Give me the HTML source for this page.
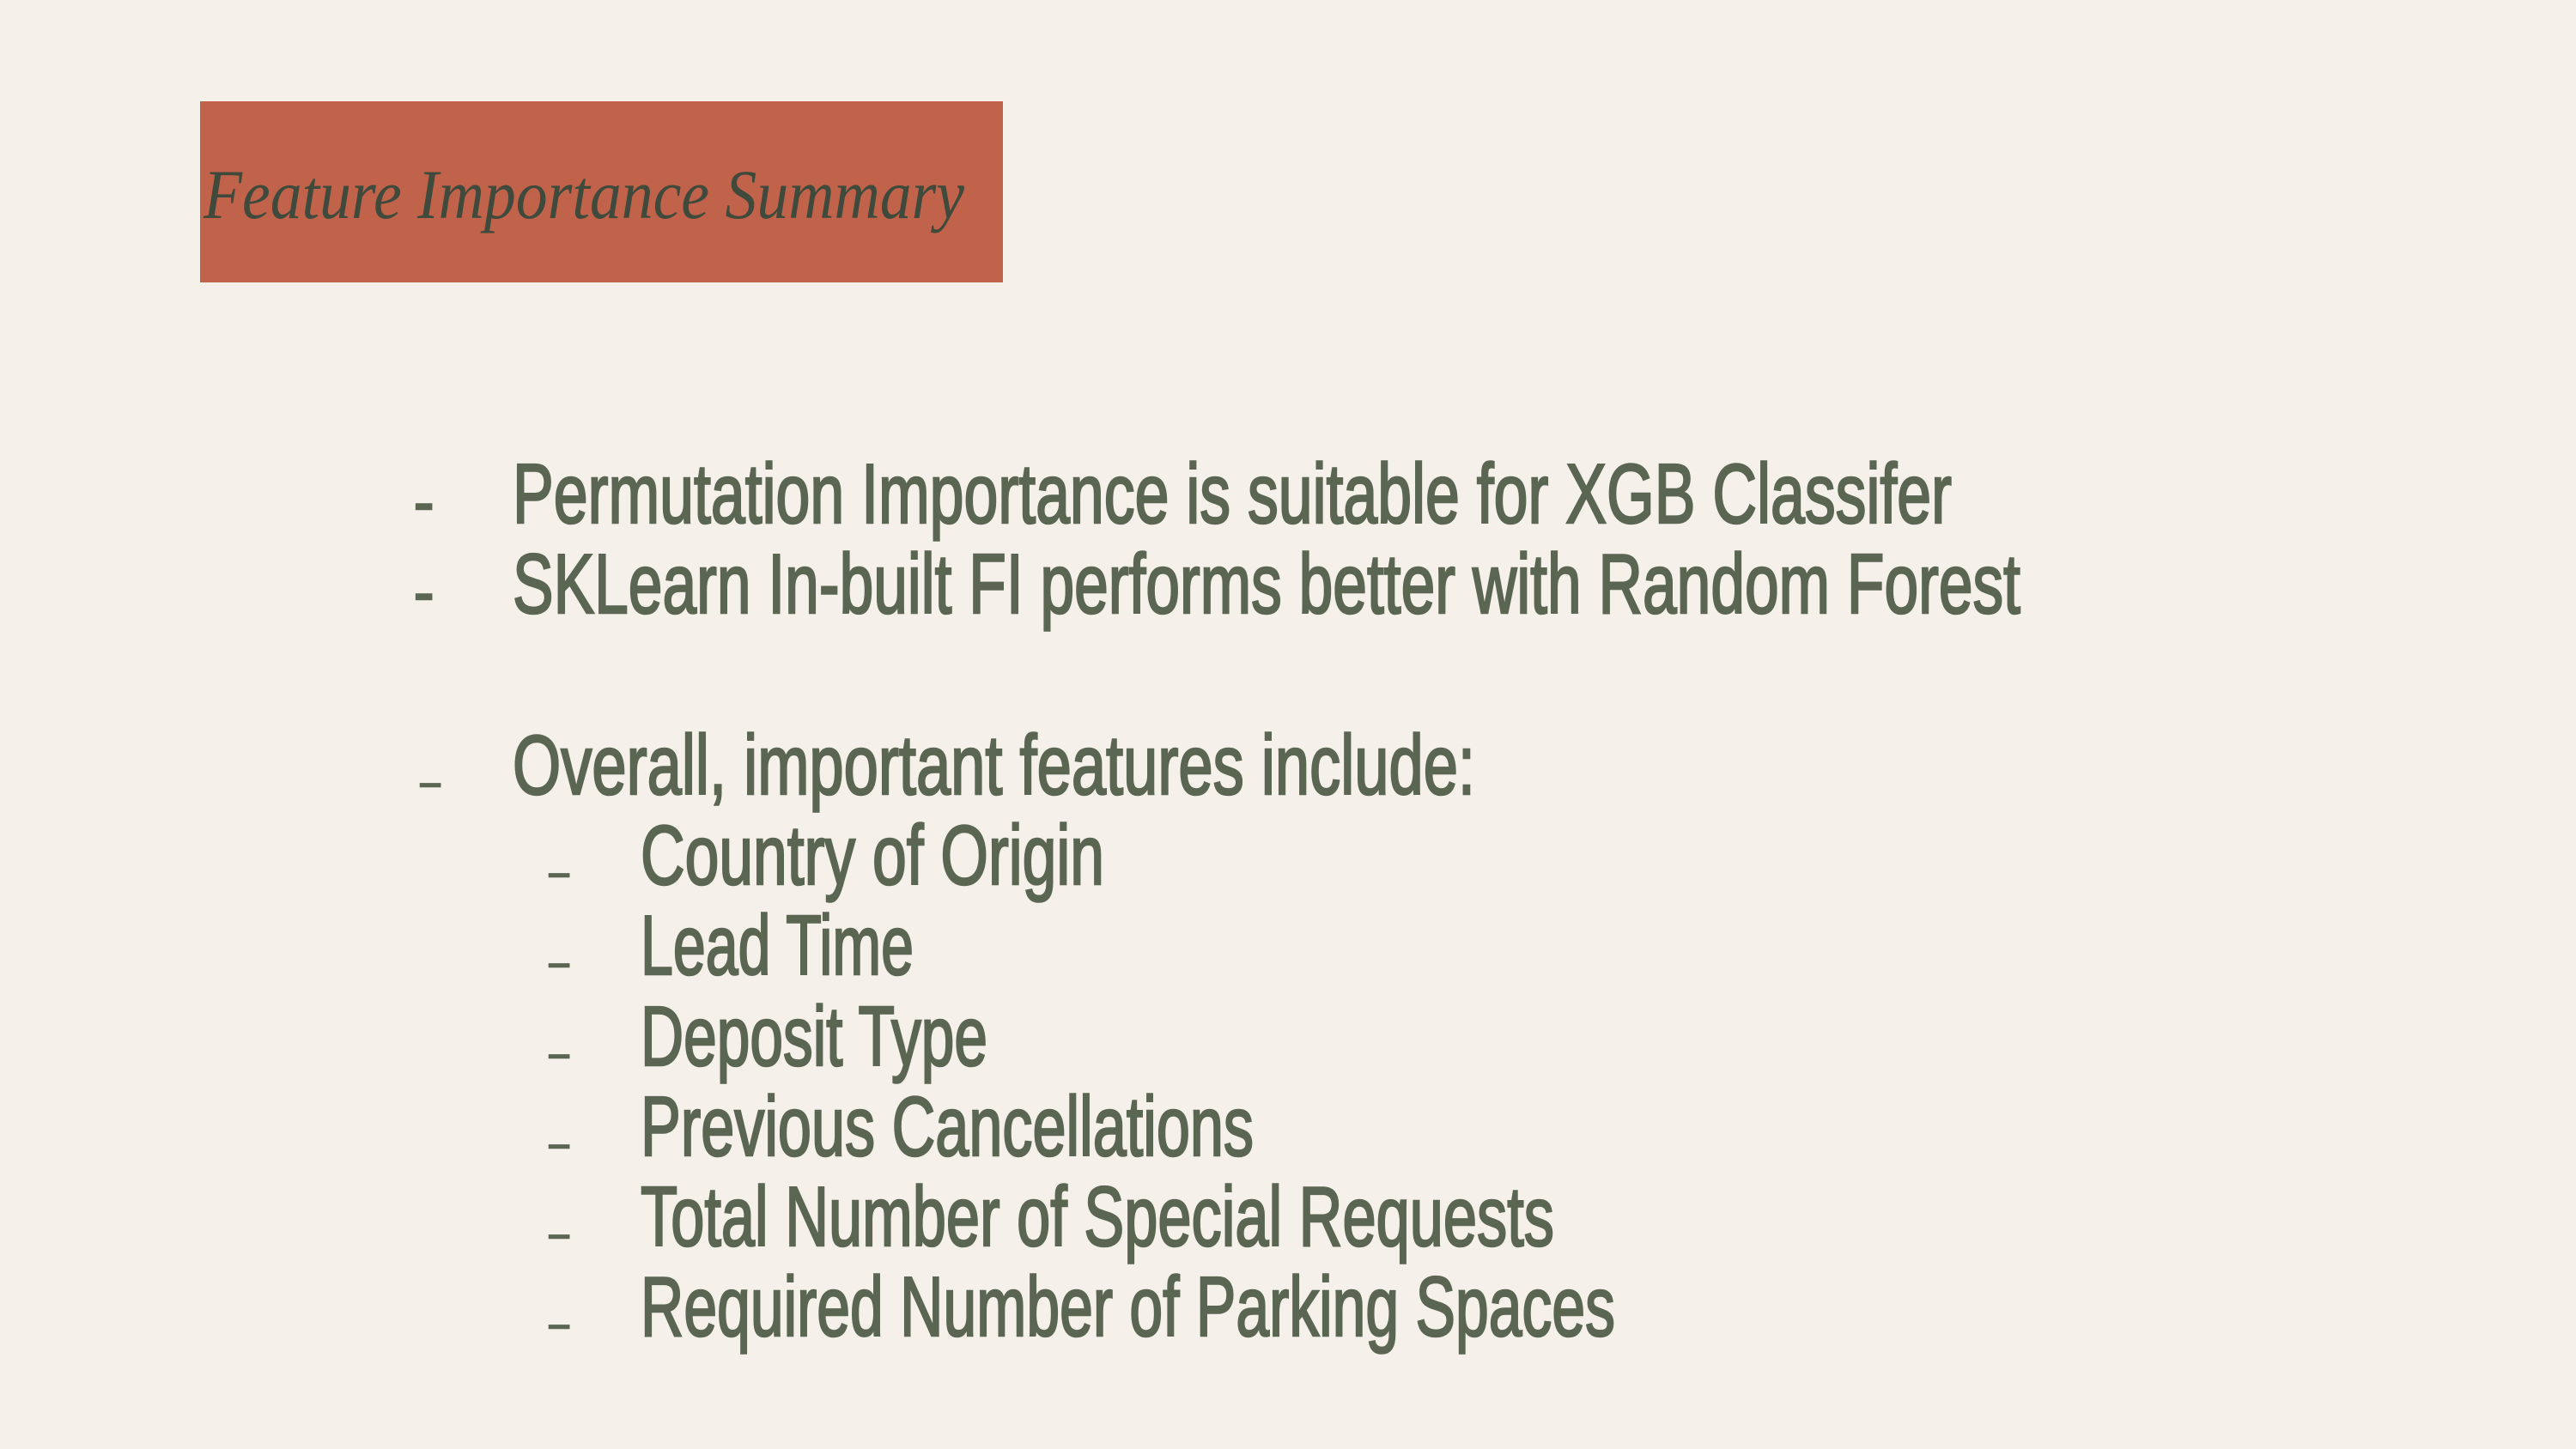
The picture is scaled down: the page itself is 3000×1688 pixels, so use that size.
<!DOCTYPE html>
<html><head><meta charset="utf-8"><style>
html,body{margin:0;padding:0;background:#f5f1ea;}
svg{display:block}
</style></head><body>
<svg width="3000" height="1688" viewBox="0 0 3000 1688" xmlns="http://www.w3.org/2000/svg">
<rect x="0" y="0" width="3000" height="1688" fill="#f5f1ea"/>
<rect x="233" y="118" width="935" height="211" fill="#c0634a"/>
<text x="237" y="254" font-family="Liberation Serif, serif" font-style="italic" font-size="82" fill="#3f4a3c" textLength="886" lengthAdjust="spacingAndGlyphs">Feature Importance Summary</text>
<g font-family="Liberation Sans Narrow, Liberation Sans, sans-serif" font-size="98" fill="#5a6652" stroke="#5a6652" stroke-width="2.5">
<text x="482" y="609" font-size="70">-</text>
<text x="597" y="609" textLength="1676" lengthAdjust="spacingAndGlyphs">Permutation Importance is suitable for XGB Classifer</text>
<text x="482" y="714" font-size="70">-</text>
<text x="597" y="714" textLength="1756" lengthAdjust="spacingAndGlyphs">SKLearn In-built FI performs better with Random Forest</text>
<text x="490" y="925" font-size="40">–</text>
<text x="597" y="925" textLength="1121" lengthAdjust="spacingAndGlyphs">Overall, important features include:</text>
<text x="640" y="1030" font-size="40">–</text>
<text x="746" y="1030" textLength="540" lengthAdjust="spacingAndGlyphs">Country of Origin</text>
<text x="640" y="1135" font-size="40">–</text>
<text x="746" y="1135" textLength="318" lengthAdjust="spacingAndGlyphs">Lead Time</text>
<text x="640" y="1241" font-size="40">–</text>
<text x="746" y="1241" textLength="404" lengthAdjust="spacingAndGlyphs">Deposit Type</text>
<text x="640" y="1346" font-size="40">–</text>
<text x="746" y="1346" textLength="714" lengthAdjust="spacingAndGlyphs">Previous Cancellations</text>
<text x="640" y="1451" font-size="40">–</text>
<text x="746" y="1451" textLength="1064" lengthAdjust="spacingAndGlyphs">Total Number of Special Requests</text>
<text x="640" y="1556" font-size="40">–</text>
<text x="746" y="1556" textLength="1135" lengthAdjust="spacingAndGlyphs">Required Number of Parking Spaces</text>
</g>
</svg>
</body></html>
